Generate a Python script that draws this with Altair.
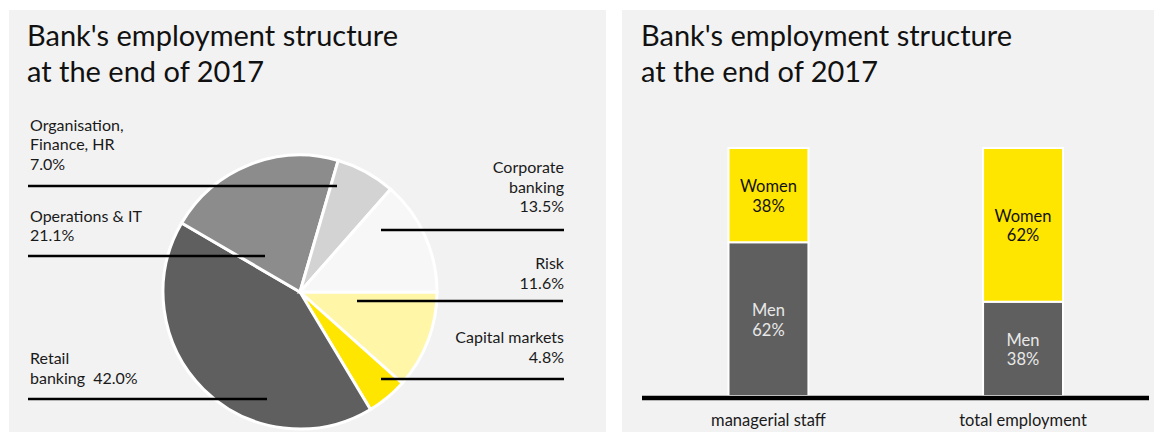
import math
import altair as alt
import pandas as pd

FONT = "Lato"
BG = "#f2f2f2"

# ---------------- data ----------------
title_text = "Bank's employment structure\nat the end of 2017"

# pie (clockwise from 3 o'clock)
pie_categories = ["Risk", "Capital markets", "Retail banking", "Operations & IT",
                  "Organisation, Finance, HR", "Corporate banking"]
pie_shares = [11.6, 4.8, 42.0, 21.1, 7.0, 13.5]
pie_label_names = ["Risk", "Capital markets", "Retail\nbanking", "Operations & IT",
                   "Organisation,\nFinance, HR", "Corporate\nbanking"]
pie_label_sep = ["\n", "\n", "\u00a0\u00a0", "\n", "\n", "\n"]

# stacked bars
bar_categories = ["managerial staff", "total employment"]
men_share = [62, 38]
women_share = [38, 62]

# ---------------- styles / layout ----------------
pie_colors = ["#fff6a8", "#ffe600", "#5f5f5f", "#8c8c8c", "#d3d3d3", "#f7f7f7"]
label_side = ["right", "right", "left", "left", "left", "right"]
label_x = [555, 555, 21, 21, 21, 555]
label_y = [254, 328.3, 349, 206.7, 115.7, 158.3]
rule_x1 = [348, 372, 19, 19, 19, 372]
rule_x2 = [554, 555, 258, 256, 328, 555]
rule_y = [291, 369, 389, 246, 176, 220]

sex_names = ["Men", "Women"]
sex_colors = ["#5f5f5f", "#ffe600"]

LW, LH = 597, 422
RW, RH = 532, 422

# ---------------- left panel: pie ----------------
pie_df = pd.DataFrame({
    "cat": pie_categories,
    "share": pie_shares,
    "ord": list(range(len(pie_categories))),
    "label": [n + s + f"{v:.1f}%" for n, s, v in zip(pie_label_names, pie_label_sep, pie_shares)],
    "side": label_side,
    "lx": label_x,
    "ly": label_y,
    "rx1": rule_x1,
    "rx2": rule_x2,
    "ry": rule_y,
})

arc = alt.Chart(pie_df).mark_arc(radius=137, stroke="white", strokeWidth=3).encode(
    theta=alt.Theta("share:Q", stack=True,
                    scale=alt.Scale(range=[math.pi / 2, math.pi / 2 + 2 * math.pi])),
    color=alt.Color("cat:N", scale=alt.Scale(domain=pie_categories, range=pie_colors), legend=None),
    order=alt.Order("ord:Q"),
    x=alt.value(291),
    y=alt.value(282),
)

rules = alt.Chart(pie_df).mark_rule(color="#000000", strokeWidth=2.6).encode(
    x=alt.X("rx1:Q", scale=None),
    x2="rx2:Q",
    y=alt.Y("ry:Q", scale=None),
)

LABEL_SIZE = 16

left_labels = alt.Chart(pie_df).transform_filter(alt.datum.side == "left").mark_text(
    align="left", baseline="middle", font=FONT, fontSize=LABEL_SIZE, lineHeight=19.5,
    lineBreak="\n", color="#1a1a1a"
).encode(x=alt.X("lx:Q", scale=None), y=alt.Y("ly:Q", scale=None), text="label:N")

right_labels = alt.Chart(pie_df).transform_filter(alt.datum.side == "right").mark_text(
    align="right", baseline="middle", font=FONT, fontSize=LABEL_SIZE, lineHeight=19.5,
    lineBreak="\n", color="#1a1a1a"
).encode(x=alt.X("lx:Q", scale=None), y=alt.Y("ly:Q", scale=None), text="label:N")

title_df = pd.DataFrame({"t": [title_text]})


def title_layer(x):
    return alt.Chart(title_df).mark_text(
        align="left", baseline="alphabetic", font=FONT, fontSize=29, lineHeight=36,
        lineBreak="\n", color="#111111"
    ).encode(x=alt.value(x), y=alt.value(36), text="t:N")


left = alt.layer(arc, rules, left_labels, right_labels, title_layer(18)).properties(
    width=LW, height=LH
)

# ---------------- right panel: stacked bars ----------------
rows = []
for c, m, w in zip(bar_categories, men_share, women_share):
    rows.append({"cat": c, "sex": "Men", "ord": 0, "val": m, "label": f"Men\n{m}%"})
    rows.append({"cat": c, "sex": "Women", "ord": 1, "val": w, "label": f"Women\n{w}%"})
bar_df = pd.DataFrame(rows)

xscale = alt.Scale(domain=bar_categories, range=[106.5, 441], paddingInner=0.686, paddingOuter=0)
yscale = alt.Scale(domain=[0, 100], range=[386, 138], nice=False, zero=False)

bars = alt.Chart(bar_df).mark_bar(stroke="white", strokeWidth=2).encode(
    x=alt.X("cat:N", scale=xscale, axis=None),
    y=alt.Y("val:Q", stack="zero", scale=yscale, axis=None),
    color=alt.Color("sex:N", scale=alt.Scale(domain=sex_names, range=sex_colors), legend=None),
    order=alt.Order("ord:Q"),
)

bar_text = alt.Chart(bar_df).transform_stack(
    stack="val", groupby=["cat"], as_=["v0", "v1"], sort=[alt.SortField("ord")]
).transform_calculate(mid="(datum.v0 + datum.v1) / 2").mark_text(
    align="center", baseline="middle", font=FONT, fontSize=16.5, lineHeight=19.5,
    lineBreak="\n", dy=-8
).encode(
    x=alt.X("cat:N", scale=xscale, axis=None),
    y=alt.Y("mid:Q", scale=yscale, axis=None),
    text="label:N",
    color=alt.condition(alt.datum.sex == "Men", alt.value("#e8e8e8"), alt.value("#111111")),
)

baseline = alt.Chart(pd.DataFrame({"d": [0]})).mark_rule(color="#000000", strokeWidth=4.5).encode(
    x=alt.value(20), x2=alt.value(527), y=alt.value(388)
)

cat_labels = alt.Chart(pd.DataFrame({"cat": bar_categories})).mark_text(
    align="center", baseline="middle", font=FONT, fontSize=16.5, color="#1a1a1a"
).encode(
    x=alt.X("cat:N", scale=xscale, axis=None),
    y=alt.value(411),
    text="cat:N",
)

right = alt.layer(bars, bar_text, baseline, cat_labels, title_layer(19)).properties(
    width=RW, height=RH
)

chart = alt.hconcat(left, right, spacing=16).resolve_scale(color="independent").properties(
    padding={"left": 1, "top": 2, "right": 0, "bottom": 0},
    background="white",
).configure_view(fill=BG, stroke=None)

chart.save("out.html", embed_options={"renderer": "svg", "actions": False})
